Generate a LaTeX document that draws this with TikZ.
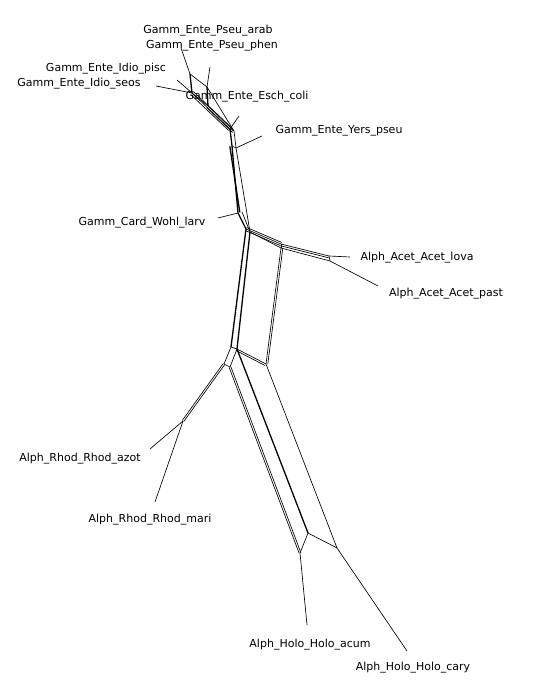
\documentclass[tikz,border=0pt]{standalone}
\usepackage{fontspec}
\setmainfont{DejaVu Sans}
\usetikzlibrary{calc}
\tikzset{
  ln/.style={draw=black, line width=0.65pt},
  thk/.style={draw=black, line width=1.3pt},
  lab/.style={font=\fontsize{11}{13}\selectfont, inner sep=0pt, text=black}
}
\newcommand{\pband}[3]{%
  \foreach \o in {#3} {\draw[ln] ($(#1)!\o pt!90:(#2)$) -- ($(#2)!\o pt!-90:(#1)$);}}
\newcommand{\tband}[3]{%
  \foreach \o in {#3} {\draw[thk] ($(#1)!\o pt!90:(#2)$) -- ($(#2)!\o pt!-90:(#1)$);}}
\begin{document}
\begin{tikzpicture}[x=1pt,y=-1pt]
\useasboundingbox (0,0) rectangle (556,700);
% ---------- vertices ----------
\coordinate (a1) at (190,74);
\coordinate (a2) at (192,93);
\coordinate (b1) at (207,87);
\coordinate (b2) at (208,106);
\coordinate (la1) at (181,48);
\coordinate (la2) at (210,67);
\coordinate (la3) at (177,80);
\coordinate (la4) at (156,86);
\coordinate (e1) at (230,129);
\coordinate (e2) at (234,131);
\coordinate (y1) at (232,146);
\coordinate (y2) at (236,148);
\coordinate (le1) at (239,116);
\coordinate (ly1) at (262,136);
\coordinate (w) at (238,213);
\coordinate (w2) at (242,212);
\coordinate (lw) at (218,218);
\coordinate (j1) at (246,229);
\coordinate (j2) at (250,232);
\coordinate (r1) at (281,244);
\coordinate (r2) at (281,248);
\coordinate (ac1) at (329,256);
\coordinate (ac2) at (330,261);
\coordinate (lac1) at (350,257);
\coordinate (lac2) at (378,286);
\coordinate (h1) at (231,347);
\coordinate (h2) at (237,349);
\coordinate (h3) at (224,364);
\coordinate (h4) at (230,367);
\coordinate (bx) at (266,364);
\coordinate (rh) at (183,421);
\coordinate (lr1) at (150,449);
\coordinate (lr2) at (155,502);
\coordinate (hb) at (308,533);
\coordinate (ha) at (300,553);
\coordinate (hc) at (337,548);
\coordinate (lh1) at (307,625);
\coordinate (lh2) at (407,651);
% ---------- top part ----------
\draw[thk] (a1) -- (a2);
\draw[thk] (b1) -- (b2);
\draw[ln] (a1) -- (b1);
\draw[ln] (a2) -- (b2);
\draw[ln] (a1) -- (la1);
\draw[ln] (b1) -- (la2);
\draw[ln] (a2) -- (la3);
\draw[ln] (a2) -- (la4);
\pband{a2}{e1}{-2,0,2}
\pband{b2}{e2}{0,-2}
\draw[ln] (b1) -- (e2);
\draw[thk] (e1) -- (y1);
\draw[ln] (e2) -- (y2);
\draw[ln] (e1) -- (e2);
\draw[ln] (y1) -- (y2);
\draw[ln] (e1) -- (le1);
\draw[ln] (y2) -- (ly1);
% ---------- middle stem ----------
\tband{y1}{w}{0}
\tband{y1}{w2}{-2.2}
\draw[ln] (y2) -- (j2);
\draw[ln] (w) -- (lw);
\draw[thk] (w) -- (j1);
\draw[ln] (w2) -- (j2);
% ---------- Acet branch ----------
\pband{j1}{r1}{0,-1.7,1.7}
\pband{j2}{r2}{0}
\draw[ln] (r1) -- (r2);
\pband{r1}{ac1}{0,-1.8}
\draw[ln] (r2) -- (ac2);
\draw[ln] (ac1) -- (ac2);
\draw[ln] (ac1) -- (lac1);
\draw[ln] (ac2) -- (lac2);
% ---------- box ----------
\draw[thk] (j1) -- (h1);
\draw[thk] (j2) -- (h2);
\pband{r2}{bx}{0,1.8}
\pband{h2}{bx}{0,-1.8}
% ---------- hub ----------
\draw[ln] (h1) -- (h2);
\draw[ln] (h1) -- (h3);
\draw[ln] (h2) -- (h4);
\draw[ln] (h3) -- (h4);
\pband{h3}{rh}{-0.9,0.9}
\pband{h4}{ha}{-0.9,0.9}
\draw[thk] (h2) -- (hb);
\draw[ln] (bx) -- (hc);
\draw[ln] (hb) -- (ha);
\draw[ln] (hb) -- (hc);
\draw[ln] (rh) -- (lr1);
\draw[ln] (rh) -- (lr2);
\draw[ln] (ha) -- (lh1);
\draw[ln] (hc) -- (lh2);
% ---------- labels ----------
\node[lab] (t1) at (208,31) {Gamm\_Ente\_Pseu\_arab};
\node[lab] (t2) at (212,46) {Gamm\_Ente\_Pseu\_phen};
\node[lab] (t3) at (106,69) {Gamm\_Ente\_Idio\_pisc};
\node[lab] (t4) at (79,84) {Gamm\_Ente\_Idio\_seos};
\node[lab] (t5) at (247,97) {Gamm\_Ente\_Esch\_coli};
\node[lab] (t6) at (339,131) {Gamm\_Ente\_Yers\_pseu};
\node[lab] (t7) at (142,223) {Gamm\_Card\_Wohl\_larv};
\node[lab] (t8) at (417,258) {Alph\_Acet\_Acet\_lova};
\node[lab] (t9) at (446,294) {Alph\_Acet\_Acet\_past};
\node[lab] (t10) at (80,459) {Alph\_Rhod\_Rhod\_azot};
\node[lab] (t11) at (150,520) {Alph\_Rhod\_Rhod\_mari};
\node[lab] (t12) at (310,645) {Alph\_Holo\_Holo\_acum};
\node[lab] (t13) at (413,668) {Alph\_Holo\_Holo\_cary};
\end{tikzpicture}
\end{document}
